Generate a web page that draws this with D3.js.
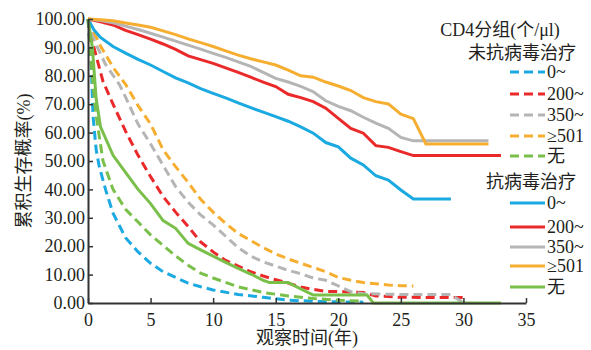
<!DOCTYPE html>
<html>
<head>
<meta charset="utf-8">
<script src="https://cdn.jsdelivr.net/npm/d3@7"></script>
<style>
  body { margin: 0; background: #fff; }
  svg { display: block; }
  text { font-family: "Liberation Serif", "Noto Sans CJK SC", serif; fill: #231f20; }
</style>
</head>
<body>
<svg id="chart" width="591" height="350"></svg>
<script>
// untreated groups (dashed), [year, survival %]
var noArt0 = [[0,100],[0.25,85],[0.4,66],[0.65,54],[0.9,48],[1.4,40],[2,31.6],[3,23],[4,18],[5,14],[6,11],[7,9],[8,7],[9,5.7],[10,4.6],[12,3],[14,2],[16,1],[18,0.6],[20,0.4],[22,0.3]];
var noArt200 = [[0,100],[0.3,93],[0.65,87],[1.2,78],[2,70],[3,60.5],[4,52],[5,44.5],[6,37.5],[7,32],[8,27],[9,21.5],[10,18],[11,15],[12,13],[13,11],[14,9.5],[15,8.2],[16,7],[17,5.6],[18,4.8],[19,4.1],[20,4],[22,3.7],[23,2.5],[25,2],[30,1.9]];
var noArt350 = [[0,100],[0.3,95],[0.65,91],[1.4,84],[2.5,77],[3,72.5],[4,63],[5,56],[6,48.5],[7,41],[8,35.5],[9,31],[10,27.5],[11,23.5],[12,19.5],[13,16.5],[14,14.5],[15,13],[16,11.5],[17,10.3],[18,8.8],[19,8],[20,6],[21,4],[22,3.3],[25,3],[29,3],[30,0]];
var noArt501 = [[0,100],[0.3,97],[1,90.5],[2,83],[3,77],[4,69.5],[5,63],[6,54],[7,48],[8,42.5],[9,36.5],[10,32],[11,28],[12,24.5],[13,22],[14,19.5],[15,17.3],[16,15.5],[17,14],[18,12.5],[19,11],[20,9],[21,8],[22,7.2],[23,6.8],[24,6.3],[25,6.1],[26,6]];
var noArtNone = [[0,100],[0.2,88],[0.4,77],[0.65,66],[1.2,50],[2,40],[3,33],[4,28.5],[5,24],[6,20.3],[7,16.6],[8,13.3],[9,10.5],[10,8.8],[12,5.7],[14,3.7],[16,2.5],[18,1.6],[20,1],[22,0.6]];

// treated groups (solid)
var art0 = [[0,100],[0.5,96],[1,93.5],[2,90.3],[3,88],[4,85.8],[5,83.8],[6,81.5],[7,79.3],[8,77.5],[9,75.5],[10,73.8],[11,72.2],[12,70.5],[13,68.8],[14,67.2],[15,65.6],[16,64],[17,62],[18,59.8],[19,56.5],[20,55],[21,51],[22,48.6],[23,44.8],[24,43.3],[25,39.8],[26,36.6],[29,36.6]];
var art200 = [[0,100],[1,99],[2,97.9],[3,96],[4,94.5],[5,92.9],[6,91.2],[7,89.3],[8,87],[9,85.7],[10,84.4],[11,82.8],[12,81.2],[13,79.5],[14,77.8],[15,76.2],[16,73.5],[17,72.3],[18,70.9],[19,68.6],[20,65],[21,61.5],[22,59.8],[23,55.4],[24,54.8],[25,53.3],[26,51.9],[33,51.9]];
var art350 = [[0,100],[1,99.5],[2,98.7],[3,97.5],[4,96.3],[5,95],[6,93.6],[7,92.2],[8,90.8],[9,89.4],[10,87.9],[11,86.5],[12,84.9],[13,83.3],[14,81.2],[15,79.1],[16,77.8],[17,76.3],[18,74.4],[19,71.2],[20,69.2],[21,67.7],[22,65.4],[23,63.3],[24,61.5],[25,58.3],[26,57.1],[32,57.1]];
var art501 = [[0,100],[1,99.7],[2,99.4],[3,98.6],[4,97.9],[5,97.1],[6,95.8],[7,94.5],[8,93],[9,91.7],[10,90.3],[11,88.8],[12,87.3],[13,86],[14,84.9],[15,83.8],[16,82],[17,80],[18,79.5],[19,77.8],[20,76.4],[21,74.8],[22,72.3],[23,70.9],[24,70.1],[25,66.5],[26,64.9],[27,56],[32,56]];
var artNone = [[0,100],[0.35,90],[0.65,72],[1,62],[2,52],[3,46],[4,40],[5,35],[6,29],[7,26.3],[8,21],[9,18.7],[10,16.5],[11,14.3],[12,12.2],[13,10.2],[14,8],[14.5,7.2],[16,7.2],[17,5],[18,2.8],[22.3,2.8],[22.8,0],[33,0]];

var groupLabels = ['0~', '200~', '350~', '≥501', '无'];
var groupColors = ['#1ba9e1', '#ea2a2a', '#b5b5b5', '#f6ae31', '#7bbf4b'];
var xTicks = [0, 5, 10, 15, 20, 25, 30, 35];
var yTicks = [0, 10, 20, 30, 40, 50, 60, 70, 80, 90, 100];

var untreated = [noArt0, noArt200, noArt350, noArt501, noArtNone];
var treated = [art0, art200, art350, art501, artNone];

var svg = d3.select('#chart');
var x = d3.scaleLinear().domain([0, 35]).range([88, 526]);
var y = d3.scaleLinear().domain([0, 100]).range([303, 19]);

var line = d3.line()
  .x(d => x(d[0]))
  .y(d => y(d[1]));

svg.selectAll('.dash')
  .data(untreated)
  .enter()
  .append('path')
  .attr('class', 'dash')
  .attr('d', d => line(d))
  .style('fill', 'none')
  .style('stroke', (d, i) => groupColors[i])
  .style('stroke-width', 3)
  .style('stroke-dasharray', '9,5');

svg.selectAll('.solid')
  .data(treated)
  .enter()
  .append('path')
  .attr('class', 'solid')
  .attr('d', d => line(d))
  .style('fill', 'none')
  .style('stroke', (d, i) => groupColors[i])
  .style('stroke-width', 3);

// axes, ticks point inward
var xAxis = svg.append('g')
  .attr('transform', 'translate(0,303)')
  .call(d3.axisBottom(x).tickValues(xTicks).tickSizeInner(-5).tickSizeOuter(0).tickPadding(10));
var yAxis = svg.append('g')
  .attr('transform', 'translate(88,0)')
  .call(d3.axisLeft(y).tickValues(yTicks).tickSizeInner(-5).tickSizeOuter(0).tickPadding(5).tickFormat(d3.format('.2f')));

[xAxis, yAxis].forEach(a => {
  a.select('.domain').style('stroke', '#333').style('stroke-width', 2);
  a.selectAll('.tick line').style('stroke', '#333').style('stroke-width', 1.5);
  a.selectAll('.tick text').style('font-size', '18px').style('font-family', '"Liberation Serif", serif').attr('fill', '#231f20');
});
yAxis.selectAll('.tick text').attr('x', -3);

svg.append('text')
  .attr('transform', 'translate(24,161) rotate(-90)')
  .attr('text-anchor', 'middle')
  .attr('dy', '0.35em')
  .style('font-size', '18px')
  .text('累积生存概率(%)');

svg.append('text')
  .attr('x', 307)
  .attr('y', 338)
  .attr('text-anchor', 'middle')
  .attr('dy', '0.35em')
  .style('font-size', '18px')
  .text('观察时间(年)');

// legend
var legend = svg.append('g');
legend.append('text').attr('x', 500).attr('y', 30).attr('dy', '0.35em').attr('text-anchor', 'middle')
  .style('font-size', '18px').text('CD4分组(个/μl)');
legend.append('text').attr('x', 576).attr('y', 53).attr('dy', '0.35em').attr('text-anchor', 'end')
  .style('font-size', '18px').text('未抗病毒治疗');
legend.append('text').attr('x', 576).attr('y', 182).attr('dy', '0.35em').attr('text-anchor', 'end')
  .style('font-size', '18px').text('抗病毒治疗');

var dashRows = [72, 94, 115, 136, 156];
var solidRows = [203, 227, 247, 266, 287];

groupLabels.forEach((lab, i) => {
  [[dashRows[i], '9,5'], [solidRows[i], null]].forEach(r => {
    legend.append('line')
      .attr('x1', 510).attr('x2', 545)
      .attr('y1', r[0]).attr('y2', r[0])
      .style('stroke', groupColors[i])
      .style('stroke-width', 3)
      .style('stroke-dasharray', r[1]);
    legend.append('text')
      .attr('x', 547).attr('y', r[0]).attr('dy', '0.35em')
      .style('font-size', '18px')
      .text(lab);
  });
});
</script>
</body>
</html>
